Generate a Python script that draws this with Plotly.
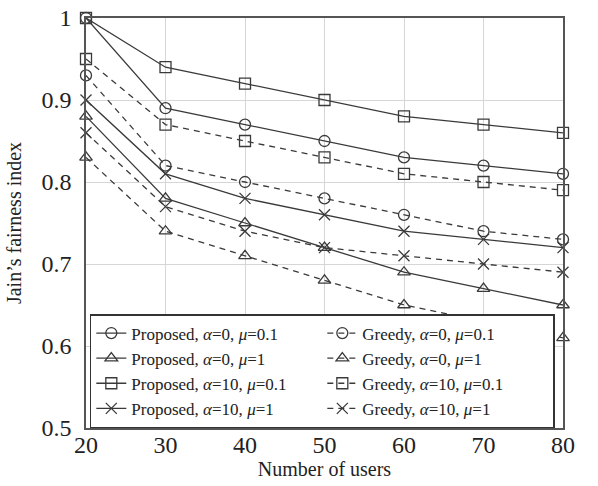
import plotly.graph_objects as go

users = [20, 30, 40, 50, 60, 70, 80]

prop_a0_mu01 = [1.00, 0.89, 0.87, 0.85, 0.83, 0.82, 0.81]
greedy_a0_mu01 = [0.93, 0.82, 0.80, 0.78, 0.76, 0.74, 0.73]
prop_a0_mu1 = [0.88, 0.78, 0.75, 0.72, 0.69, 0.67, 0.65]
greedy_a0_mu1 = [0.83, 0.74, 0.71, 0.68, 0.65, 0.63, 0.61]
prop_a10_mu01 = [1.00, 0.94, 0.92, 0.90, 0.88, 0.87, 0.86]
greedy_a10_mu01 = [0.95, 0.87, 0.85, 0.83, 0.81, 0.80, 0.79]
prop_a10_mu1 = [0.90, 0.81, 0.78, 0.76, 0.74, 0.73, 0.72]
greedy_a10_mu1 = [0.86, 0.77, 0.74, 0.72, 0.71, 0.70, 0.69]

y_ticks = [0.5, 0.6, 0.7, 0.8, 0.9, 1.0]
y_tick_text = ["0.5", "0.6", "0.7", "0.8", "0.9", "1"]
x_ticks = [20, 30, 40, 50, 60, 70, 80]

series = [
    ("Proposed, <i>α</i>=0, <i>μ</i>=0.1", prop_a0_mu01, "circle-open", "solid"),
    ("Greedy, <i>α</i>=0, <i>μ</i>=0.1", greedy_a0_mu01, "circle-open", "dash"),
    ("Proposed, <i>α</i>=0, <i>μ</i>=1", prop_a0_mu1, "triangle-up-open", "solid"),
    ("Greedy, <i>α</i>=0, <i>μ</i>=1", greedy_a0_mu1, "triangle-up-open", "dash"),
    ("Proposed, <i>α</i>=10, <i>μ</i>=0.1", prop_a10_mu01, "square-open", "solid"),
    ("Greedy, <i>α</i>=10, <i>μ</i>=0.1", greedy_a10_mu01, "square-open", "dash"),
    ("Proposed, <i>α</i>=10, <i>μ</i>=1", prop_a10_mu1, "x-thin-open", "solid"),
    ("Greedy, <i>α</i>=10, <i>μ</i>=1", greedy_a10_mu1, "x-thin-open", "dash"),
]

col = "#3a3a3a"
fig = go.Figure()
for name, ys, sym, dash in series:
    fig.add_trace(go.Scatter(
        x=users, y=ys, name=name, mode="lines+markers",
        line=dict(color=col, width=1.3, dash="6px,5px" if dash == "dash" else "solid"),
        marker=dict(symbol=sym, size=11, color=col, line=dict(color=col, width=1.3)),
        cliponaxis=False,
    ))

font = "Liberation Serif, Times New Roman, serif"
fig.update_layout(
    width=598, height=486,
    margin=dict(l=86, r=35, t=18, b=58),
    paper_bgcolor="white", plot_bgcolor="white",
    font=dict(family=font, color="#222"),
    showlegend=True,
    legend=dict(
        orientation="h", x=0.008, y=0.0, xanchor="left", yanchor="bottom",
        entrywidth=186, entrywidthmode="pixels",
        bordercolor="#333", borderwidth=1.5, bgcolor="white",
        font=dict(family=font, size=17, color="#222"),
        tracegroupgap=0, itemwidth=30,
    ),
    xaxis=dict(
        range=[20, 80], tickvals=x_ticks, showgrid=True, gridcolor="#d6d6d6", gridwidth=1.2,
        showline=True, linecolor="#555", linewidth=1.5, mirror=True, zeroline=False,
        ticks="", tickfont=dict(size=24, family=font, color="#222"),
        ticklabelstandoff=-6, automargin=False, ticklabeloverflow="allow",
        title=dict(text="Number of users", font=dict(size=20, family=font, color="#222"), standoff=4),
    ),
    yaxis=dict(
        range=[0.5, 1.0], tickvals=y_ticks, ticktext=y_tick_text, showgrid=True,
        gridcolor="#d6d6d6", gridwidth=1.2,
        showline=True, linecolor="#555", linewidth=1.5, mirror=True, zeroline=False,
        ticks="", tickfont=dict(size=24, family=font, color="#222"),
        ticklabelstandoff=8, automargin=False, ticklabeloverflow="allow",
        title=dict(text="Jain’s fairness index", font=dict(size=20, family=font, color="#222"), standoff=14),
    ),
)

# remove the browser's default 8px body margin so the figure fills the window exactly
fig.write_html("out.html", config={"displayModeBar": False},
               post_script="document.body.style.margin='0';")
